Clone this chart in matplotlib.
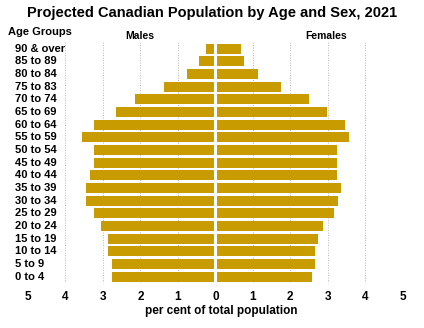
import matplotlib
matplotlib.use("Agg")
import matplotlib.pyplot as plt
from matplotlib.transforms import blended_transform_factory

# Age groups, bottom to top
age_groups = ["0 to 4", "5 to 9", "10 to 14", "15 to 19", "20 to 24", "25 to 29",
              "30 to 34", "35 to 39", "40 to 44", "45 to 49", "50 to 54", "55 to 59",
              "60 to 64", "65 to 69", "70 to 74", "75 to 83", "80 to 84", "85 to 89",
              "90 & over"]

# Per cent of total population
males = [2.75, 2.75, 2.86, 2.86, 3.05, 3.24, 3.45, 3.45, 3.35, 3.24, 3.24, 3.56,
         3.24, 2.65, 2.14, 1.36, 0.75, 0.45, 0.25]
females = [2.57, 2.65, 2.65, 2.75, 2.86, 3.16, 3.27, 3.35, 3.24, 3.24, 3.24, 3.56,
           3.46, 2.97, 2.49, 1.76, 1.15, 0.77, 0.67]

tick_values = [-5, -4, -3, -2, -1, 0, 1, 2, 3, 4, 5]
tick_labels = ["5", "4", "3", "2", "1", "0", "1", "2", "3", "4", "5"]

bar_color = "#C89B00"
font = "Liberation Sans"

fig = plt.figure(figsize=(4.24, 3.28), dpi=100)
ax = fig.add_axes([0.066, 0.137, 0.884, 0.734])

y = list(range(len(age_groups)))
ax.barh(y, [-m for m in males], height=0.8, color=bar_color, edgecolor="none", zorder=2)
ax.barh(y, females, height=0.8, color=bar_color, edgecolor="none", zorder=2)
ax.axvline(0, color="white", lw=2.2, zorder=3)

for v in [-4, -3, -2, -1, 1, 2, 3, 4]:
    ax.axvline(v, color="#a0a0a0", lw=0.6, linestyle=(0, (1, 2)), zorder=1)

ax.set_xlim(-5, 5)
ax.set_ylim(-0.5, len(age_groups) - 0.5)
for s in ax.spines.values():
    s.set_visible(False)
ax.set_yticks([])
ax.set_xticks(tick_values)
ax.set_xticklabels(tick_labels, fontsize=8.5, fontweight="bold", family=font)
ax.tick_params(axis="x", length=0, pad=6)

# Age group labels at the left edge
label_tf = blended_transform_factory(fig.transFigure, ax.transData)
for yi, lab in zip(y, age_groups):
    ax.text(15 / 424, yi, lab, transform=label_tf,
            ha="left", va="center", fontsize=8, fontweight="bold", family=font)

fig.text(0.5, 1 - 13 / 328, "Projected Canadian Population by Age and Sex, 2021",
         ha="center", va="center", fontsize=10.5, fontweight="bold", family=font)
fig.text(8 / 424, 1 - 32 / 328, "Age Groups", ha="left", va="center",
         fontsize=8, fontweight="bold", family=font)
fig.text(140 / 424, 1 - 36 / 328, "Males", ha="center", va="center",
         fontsize=7.5, fontweight="bold", family=font)
fig.text(326 / 424, 1 - 36 / 328, "Females", ha="center", va="center",
         fontsize=7.5, fontweight="bold", family=font)
fig.text(221 / 424, 1 - 311 / 328, "per cent of total population", ha="center", va="center",
         fontsize=8.5, fontweight="bold", family=font)

fig.savefig("out.png", dpi=100)
